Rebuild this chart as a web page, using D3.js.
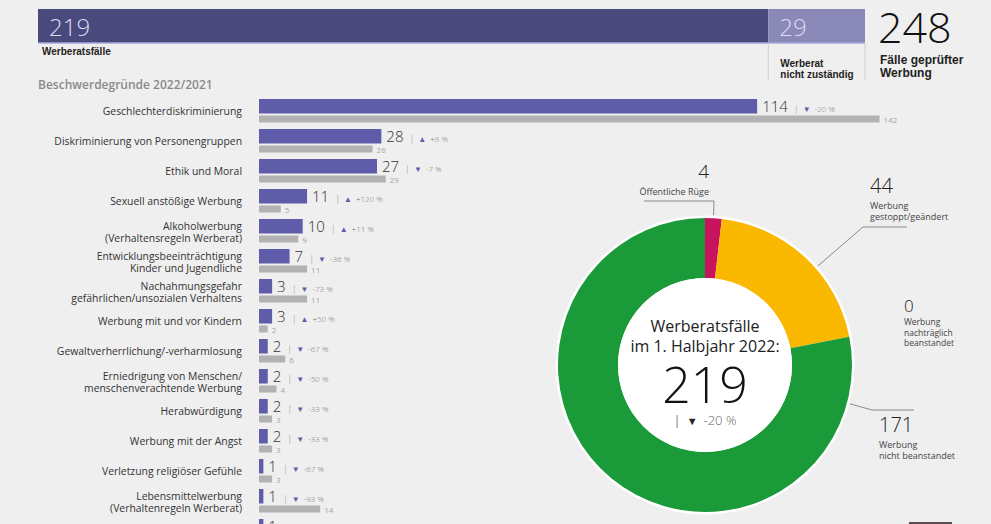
<!DOCTYPE html>
<html>
<head>
<meta charset="utf-8">
<script src="https://cdn.jsdelivr.net/npm/d3@7"></script>
<style>
  body { margin: 0; background: #efefef; overflow: hidden; }
  svg { display: block; font-family: "Open Sans", sans-serif; }
</style>
</head>
<body>
<svg id="chart" width="991" height="524"></svg>
<script>
// Gesamtfälle (oben)
const totalLabels = ["Werberatsfälle", "Werberat nicht zuständig"];
const totalValues = [219, 29];
const totalSum = 248;

// Beschwerdegründe 2022 / 2021
const categories = [
    "Geschlechterdiskriminierung",
    "Diskriminierung von Personengruppen",
    "Ethik und Moral",
    "Sexuell anstößige Werbung",
    "Alkoholwerbung|(Verhaltensregeln Werberat)",
    "Entwicklungsbeeinträchtigung|Kinder und Jugendliche",
    "Nachahmungsgefahr|gefährlichen/unsozialen Verhaltens",
    "Werbung mit und vor Kindern",
    "Gewaltverherrlichung/-verharmlosung",
    "Erniedrigung von Menschen/|menschenverachtende Werbung",
    "Herabwürdigung",
    "Werbung mit der Angst",
    "Verletzung religiöser Gefühle",
    "Lebensmittelwerbung|(Verhaltenregeln Werberat)",
    "Sonstige"
];
const values2022 = [114, 28, 27, 11, 10, 7, 3, 3, 2, 2, 2, 2, 1, 1, 1];
const values2021 = [142, 26, 29, 5, 9, 11, 11, 2, 6, 4, 3, 3, 3, 14, null];
const changes = [-20, 8, -7, 120, 11, -36, -73, 50, -67, -50, -33, -33, -67, -93, null];

// Ergebnis der Werberatsfälle (Donut)
const outcomeLabels = [
    "Öffentliche Rüge",
    "Werbung|gestoppt/geändert",
    "Werbung|nachträglich|beanstandet",
    "Werbung|nicht beanstandet"
];
const outcomeValues = [4, 44, 0, 171];
const outcomeColors = ["#c8145e", "#fbb800", "#8a8a8a", "#1b9a39"];
const centerTotal = 219;
const centerChange = -20;

const svg = d3.select("#chart");
const fmtPct = v => (v > 0 ? "+" : "") + v + " %";

// ---------- top stacked bar ----------
const xTop = d3.scaleLinear().domain([0, totalSum]).range([38, 865]);
const topY = 9, topH = 34;
const topColors = ["#4a497e", "#8b89b8"];

let acc = 0;
const topSegs = totalValues.map((v, i) => {
    const s = { v, i, x0: acc, x1: acc + v };
    acc += v;
    return s;
});

svg.selectAll(".topseg")
    .data(topSegs)
    .join("rect")
    .attr("x", d => xTop(d.x0))
    .attr("y", topY)
    .attr("width", d => xTop(d.x1) - xTop(d.x0))
    .attr("height", topH)
    .attr("fill", d => topColors[d.i]);

svg.append("line")
    .attr("x1", xTop(0)).attr("x2", xTop(totalSum))
    .attr("y1", topY + topH).attr("y2", topY + topH)
    .attr("stroke", "#a9a7d8").attr("stroke-width", 1.5);

svg.selectAll(".topval")
    .data(topSegs)
    .join("text")
    .attr("x", d => xTop(d.x0) + 11)
    .attr("y", topY + 27)
    .attr("font-size", 24)
    .attr("font-weight", 300)
    .attr("fill", "#dcdcf0")
    .text(d => d.v);

// separators under the bar
svg.selectAll(".topsep")
    .data([xTop(totalValues[0]), xTop(totalSum)])
    .join("line")
    .attr("x1", d => d).attr("x2", d => d)
    .attr("y1", topY + topH).attr("y2", 80)
    .attr("stroke", "#cfcfcf").attr("stroke-width", 1);

svg.append("text")
    .attr("x", 42).attr("y", 55)
    .attr("font-family", "Liberation Sans, Arial, sans-serif")
    .attr("font-size", 10).attr("font-weight", 700).attr("fill", "#222")
    .text(totalLabels[0]);

svg.append("text")
    .attr("x", xTop(totalValues[0]) + 12).attr("y", 67)
    .attr("font-family", "Liberation Sans, Arial, sans-serif")
    .attr("font-size", 10).attr("font-weight", 700).attr("fill", "#222")
    .selectAll("tspan")
    .data(["Werberat", "nicht zuständig"])
    .join("tspan")
    .attr("x", xTop(totalValues[0]) + 12)
    .attr("dy", (d, i) => i ? 11 : 0)
    .text(d => d);

svg.append("text")
    .attr("x", 878).attr("y", 43)
    .attr("font-size", 43).attr("font-weight", 300).attr("fill", "#111")
    .text(totalSum);

svg.append("text")
    .attr("x", 880).attr("y", 64)
    .attr("font-family", "Liberation Sans, Arial, sans-serif")
    .attr("font-size", 12).attr("font-weight", 700).attr("fill", "#222")
    .selectAll("tspan")
    .data(["Fälle geprüfter", "Werbung"])
    .join("tspan")
    .attr("x", 880)
    .attr("dy", (d, i) => i ? 13 : 0)
    .text(d => d);

svg.append("text")
    .attr("x", 38).attr("y", 89)
    .attr("font-size", 12).attr("font-weight", 600).attr("fill", "#8a8a8a")
    .text("Beschwerdegründe 2022/2021");

// ---------- horizontal bars ----------
const x = d3.scaleLinear().domain([0, 142]).range([259, 879.5]);
const y = d3.scaleBand().domain(categories).range([99, 99 + 30 * categories.length]);

const rows = categories.map((c, i) => ({
    cat: c, lines: c.split("|"), v: values2022[i], p: values2021[i], ch: changes[i]
}));

const row = svg.selectAll(".row")
    .data(rows)
    .join("g")
    .attr("transform", d => `translate(0,${y(d.cat)})`);

row.append("rect")
    .attr("x", x(0)).attr("y", 0)
    .attr("width", d => x(d.v) - x(0))
    .attr("height", 14.5)
    .attr("fill", "#5f5ca9");

row.filter(d => d.p != null).append("rect")
    .attr("x", x(0)).attr("y", 16.5)
    .attr("width", d => x(d.p) - x(0))
    .attr("height", 7)
    .attr("fill", "#b2b2b2");

row.filter(d => d.p != null).append("text")
    .attr("x", d => x(d.p) + 4)
    .attr("y", 23.5)
    .attr("font-size", 8).attr("fill", "#a5a5a5")
    .text(d => d.p);

row.append("text")
    .attr("x", 242)
    .attr("text-anchor", "end")
    .attr("font-size", 10.4)
    .attr("fill", "#333")
    .selectAll("tspan")
    .data(d => d.lines.map((l, i) => ({ l, i, n: d.lines.length })))
    .join("tspan")
    .attr("x", 242)
    .attr("y", d => d.n === 1 ? 16 : 10.5 + d.i * 12)
    .text(d => d.l);

const valText = row.append("text")
    .attr("x", d => x(d.v) + 5)
    .attr("y", 13)
    .attr("font-size", 15)
    .attr("font-weight", 300)
    .attr("fill", "#333");

valText.append("tspan").text(d => d.v);
valText.filter(d => d.ch != null).append("tspan")
    .attr("dx", 6).attr("font-size", 9).attr("fill", "#888").text("|");
valText.filter(d => d.ch != null).append("tspan")
    .attr("dx", 4).attr("font-size", 8).attr("fill", "#5f5ca9")
    .text(d => d.ch > 0 ? "▲" : "▼");
valText.filter(d => d.ch != null).append("tspan")
    .attr("dx", 4).attr("font-size", 8).attr("fill", "#7a7a7a")
    .text(d => fmtPct(d.ch));

// ---------- donut ----------
const cx = 705, cy = 365, rOuter = 147, rInner = 87;
const g = svg.append("g").attr("transform", `translate(${cx},${cy})`);

g.append("circle").attr("r", rOuter + 2.5).attr("fill", "#fff");

const pie = d3.pie().sort(null).value(d => d);
const arcs = pie(outcomeValues);
const arc = d3.arc().innerRadius(rInner).outerRadius(rOuter);

g.selectAll(".slice")
    .data(arcs)
    .join("path")
    .attr("d", arc)
    .attr("fill", (d, i) => outcomeColors[i]);

g.append("circle").attr("r", rInner).attr("fill", "#fff");

g.append("text")
    .attr("text-anchor", "middle")
    .attr("font-size", 16)
    .attr("fill", "#222")
    .selectAll("tspan")
    .data(["Werberatsfälle", "im 1. Halbjahr 2022:"])
    .join("tspan")
    .attr("x", 0)
    .attr("y", (d, i) => -33 + i * 20)
    .text(d => d);

g.append("text")
    .attr("text-anchor", "middle")
    .attr("y", 38)
    .attr("font-size", 50)
    .attr("font-weight", 300)
    .attr("fill", "#111")
    .text(centerTotal);

const cc = g.append("text")
    .attr("text-anchor", "middle")
    .attr("y", 60)
    .attr("font-size", 13)
    .attr("fill", "#222");
cc.append("tspan").attr("font-weight", 300).text("|");
cc.append("tspan").attr("dx", 6).attr("font-size", 11).text(centerChange > 0 ? "▲" : "▼");
cc.append("tspan").attr("dx", 6).attr("font-weight", 300).attr("fill", "#666").text(fmtPct(centerChange));

// label layout (annotation placement)
const pt = (deg, r) => {
    const a = deg * Math.PI / 180;
    return [cx + r * Math.sin(a), cy - r * Math.cos(a)];
};
const sliceMid = i => (arcs[i].startAngle + arcs[i].endAngle) / 2 * 180 / Math.PI;

const labelLayout = [
    { x: 709, y: 178, anchor: "end", size: 19, sub: 9, gap: 17,
      line: () => [[644, 201], [714, 201], pt(sliceMid(0), rOuter + 3)] },
    { x: 870, y: 193, anchor: "start", size: 20, sub: 9, gap: 16,
      line: () => [[907, 227], [863, 227], pt(sliceMid(1) + 6, rOuter + 3)] },
    { x: 904, y: 312, anchor: "start", size: 17, sub: 8.5, gap: 13, line: null },
    { x: 879, y: 432, anchor: "start", size: 20, sub: 9, gap: 16,
      line: () => [pt(105, rOuter + 3), [872, 410], [914, 410]] }
];

const lab = svg.selectAll(".olabel")
    .data(outcomeLabels.map((l, i) => ({ lines: l.split("|"), v: outcomeValues[i], L: labelLayout[i] })))
    .join("g");

lab.append("text")
    .attr("x", d => d.L.x).attr("y", d => d.L.y)
    .attr("text-anchor", d => d.L.anchor)
    .attr("font-size", d => d.L.size)
    .attr("font-weight", 300)
    .attr("fill", "#222")
    .text(d => d.v);

lab.append("text")
    .attr("text-anchor", d => d.L.anchor)
    .attr("font-size", d => d.L.sub)
    .attr("fill", "#444")
    .selectAll("tspan")
    .data(d => d.lines.map((l, i) => ({ l, i, L: d.L })))
    .join("tspan")
    .attr("x", d => d.L.x)
    .attr("y", d => d.L.y + d.L.gap + d.i * (d.L.sub + 2))
    .text(d => d.l);

lab.filter(d => d.L.line).append("path")
    .attr("d", d => d3.line()(d.L.line()))
    .attr("fill", "none")
    .attr("stroke", "#8a8a8a")
    .attr("stroke-width", 1);

// logo fragment, bottom right
svg.append("rect")
    .attr("x", 909).attr("y", 522).attr("width", 43).attr("height", 4)
    .attr("fill", "#5b4c53");
</script>
</body>
</html>
